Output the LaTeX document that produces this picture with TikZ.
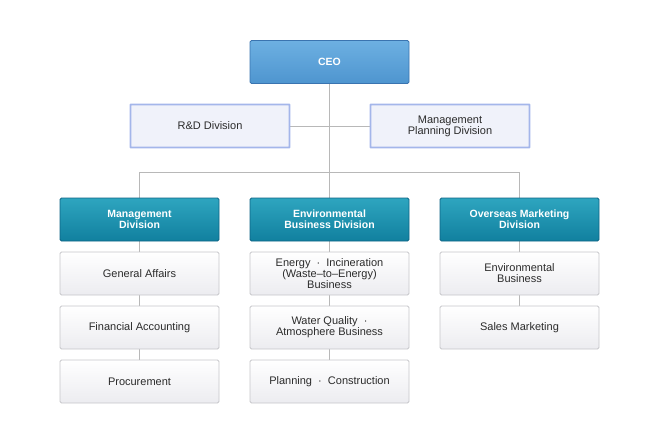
\documentclass[tikz,border=0pt]{standalone}
\usepackage{fontspec}
\setmainfont{Liberation Sans}
\usetikzlibrary{backgrounds}
\definecolor{linegray}{HTML}{B8B8B8}
\definecolor{ceotop}{HTML}{6DB0E2}
\definecolor{ceobot}{HTML}{4E95CF}
\definecolor{ceoline}{HTML}{3A74B0}
\definecolor{divtop}{HTML}{2EA5BF}
\definecolor{divbot}{HTML}{11809F}
\definecolor{divline}{HTML}{0E6486}
\definecolor{staffline}{HTML}{A4B6EA}
\definecolor{stafffill}{HTML}{F0F2FA}
\definecolor{subline}{HTML}{C6C6CA}
\definecolor{subbot}{HTML}{ECECF0}
\definecolor{txt}{HTML}{2B2B2B}
\tikzset{
  box/.style={minimum width=159, minimum height=43, inner sep=0pt, align=center,
    font=\fontsize{11}{11}\selectfont, rounded corners=1.5pt},
  ceobox/.style={box, draw=ceoline, line width=0.9pt, top color=ceotop, bottom color=ceobot,
    text=white, font=\fontsize{10.5}{11}\selectfont\bfseries},
  staffbox/.style={box, draw=staffline, line width=1.8pt, fill=stafffill, text=txt, rounded corners=0.5pt},
  divbox/.style={box, draw=divline, line width=0.9pt, top color=divtop, bottom color=divbot,
    text=white, font=\fontsize{10.5}{11}\selectfont\bfseries},
  subbox/.style={box, draw=subline, line width=0.8pt, top color=white, bottom color=subbot, text=txt},
  conn/.style={draw=linegray, line width=0.9pt}
}
\begin{document}
\begin{tikzpicture}[x=1pt,y=-1pt]
\useasboundingbox (0,0) rectangle (660,445);
\node[ceobox] (ceo) at (329.5,62) {CEO};
\node[staffbox] (rd) at (210,126) {R\&D Division};
\node[staffbox] (mp) at (450,126) {Management\\Planning Division};
\coordinate (bus) at (329.5,172);
\node[divbox] (md) at (139.5,219.5) {Management\\Division};
\node[divbox] (ed) at (329.5,219.5) {Environmental\\Business Division};
\node[divbox] (od) at (519.5,219.5) {Overseas Marketing\\Division};
\node[subbox] (ga) at (139.5,273.5) {General Affairs};
\node[subbox] (fa) at (139.5,327.5) {Financial Accounting};
\node[subbox] (pr) at (139.5,381.5) {Procurement};
\node[subbox] (ei) at (329.5,273.5) {Energy \ ·\ \ Incineration\\(Waste--to--Energy)\\Business};
\node[subbox] (wq) at (329.5,327.5) {Water Quality \ ·\\Atmosphere Business};
\node[subbox] (pc) at (329.5,381.5) {Planning \ ·\ \ Construction};
\node[subbox] (eb) at (519.5,273.5) {Environmental\\Business};
\node[subbox] (sm) at (519.5,327.5) {Sales Marketing};
\begin{scope}[on background layer]
\draw[conn] (ceo.south) -- (ed.north);
\draw[conn] (rd.east) -- (mp.west);
\draw[conn] (md.north) -- (md.north |- bus) -- (od.north |- bus) -- (od.north);
\draw[conn] (md.south) -- (ga.north);
\draw[conn] (ga.south) -- (fa.north);
\draw[conn] (fa.south) -- (pr.north);
\draw[conn] (ed.south) -- (ei.north);
\draw[conn] (ei.south) -- (wq.north);
\draw[conn] (wq.south) -- (pc.north);
\draw[conn] (od.south) -- (eb.north);
\draw[conn] (eb.south) -- (sm.north);
\end{scope}
\end{tikzpicture}
\end{document}
